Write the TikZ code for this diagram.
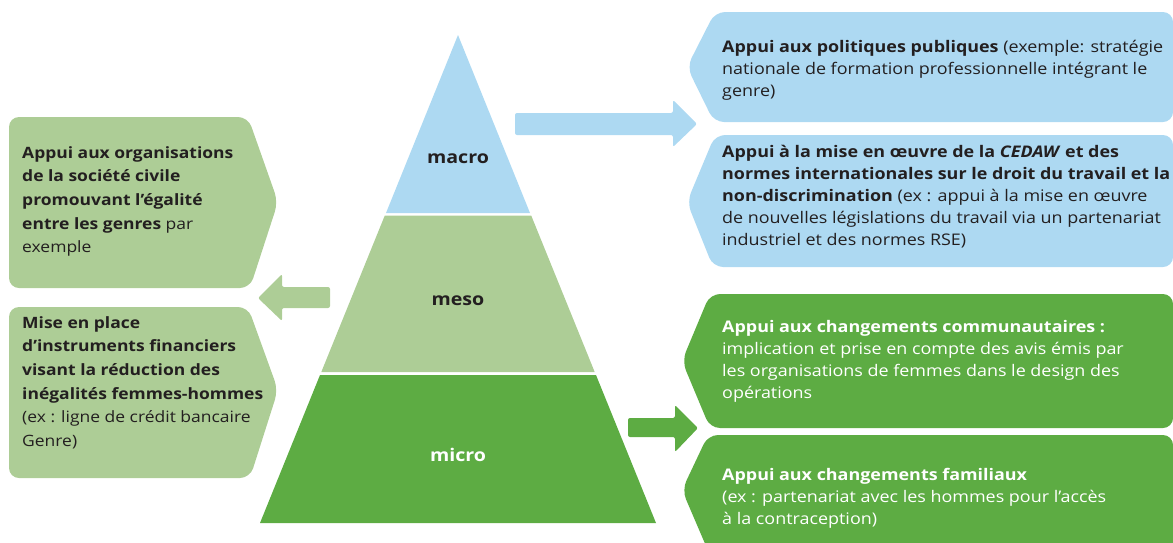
\documentclass[tikz,border=0pt]{standalone}
\usepackage{fontspec}
\setmainfont{Open Sans}[FakeStretch=1.12]
\definecolor{lblue}{HTML}{ADD9F2}
\definecolor{lgreen}{HTML}{ADCD96}
\definecolor{dgreen}{HTML}{5DAC43}
\definecolor{ink}{HTML}{231F20}
\newcommand{\fstrut}{\rule{0pt}{15pt}}
\begin{document}
\begin{tikzpicture}[x=1pt,y=-1pt,
  lt/.style={anchor=north west, inner sep=0pt, align=left, text=ink, font=\fontsize{15.6}{23.6}\selectfont},
  rt/.style={anchor=north west, inner sep=0pt, align=left, text=ink, font=\fontsize{16}{22}\selectfont},
  lvl/.style={font=\fontsize{17.5}{22}\selectfont\bfseries, anchor=base, inner sep=0pt},
  shp/.style={rounded corners=10pt},
  arr/.style={rounded corners=2pt}]
\useasboundingbox (0,0) rectangle (1173,542);

% pyramid
\fill[lblue] (458,35) -- (530,213) -- (386,213) -- cycle;
\fill[lgreen] (384.8,215.5) -- (531.2,215.5) -- (594.7,372) -- (321.3,372) -- cycle;
\fill[dgreen] (320,375) -- (596,375) -- (656,523) -- (260,523) -- cycle;
\node[lvl, text=ink] (macro) at (458,163) {macro};
\node[lvl, text=ink] (meso) at (458,305) {meso};
\node[lvl, text=white] (micro) at (458,461.5) {micro};

% left boxes
\fill[lgreen, shp] (100,117) -- (248,117) -- (278,202) -- (250,288) -- (9,288) -- (9,117) -- cycle;
\fill[lgreen, shp] (100,307) -- (248,307) -- (278,390) -- (250,478) -- (9,478) -- (9,307) -- cycle;

% right boxes
\fill[lblue, shp] (900,12) -- (1173,12) -- (1173,122) -- (714,122) -- (687,67) -- (715,12) -- cycle;
\fill[lblue, shp] (900,135) -- (1173,135) -- (1173,267) -- (713,267) -- (687,202) -- (715,135) -- cycle;
\fill[dgreen, shp] (900,294) -- (1173,294) -- (1173,428) -- (710,428) -- (682,361) -- (710,294) -- cycle;
\fill[dgreen, shp] (900,435) -- (1173,435) -- (1173,560) -- (712,560) -- (682,490) -- (708,435) -- cycle;

% block arrows
\fill[lgreen, arr] (258,298) -- (282,274) -- (282,287) -- (330,287) -- (330,308) -- (282,308) -- (282,321) -- cycle;
\fill[lblue, arr] (515,113) -- (673,113) -- (673,100) -- (697,124) -- (673,147) -- (673,135) -- (515,135) -- cycle;
\fill[dgreen, arr] (628,418) -- (675,418) -- (675,405) -- (698,428) -- (675,452) -- (675,437) -- (628,437) -- cycle;

% left texts
\node[lt] (l1) at (22,143) {\fstrut\textbf{Appui aux organisations}\\
\textbf{de la société civile}\\
\textbf{promouvant l’égalité}\\
\textbf{entre les genres} par\\
exemple};
\node[lt] (l2) at (22,313) {\fstrut\textbf{Mise en place}\\
\textbf{d’instruments financiers}\\
\textbf{visant la réduction des}\\
\textbf{inégalités femmes-hommes}\\
(ex : ligne de crédit bancaire\\
Genre)};

% right texts
\node[rt] (r1) at (722,37) {\fstrut\textbf{Appui aux politiques publiques} (exemple: stratégie\\
nationale de formation professionnelle intégrant le\\
genre)};
\node[rt] (r2) at (722,142) {\fstrut\textbf{Appui à la mise en œuvre de la \textit{CEDAW} et des}\\
\textbf{normes internationales sur le droit du travail et la}\\
\textbf{non-discrimination} (ex : appui à la mise en œuvre\\
de nouvelles législations du travail via un partenariat\\
industriel et des normes RSE)};
\node[rt, text=white] (r3) at (722,317) {\fstrut\textbf{Appui aux changements communautaires :}\\
implication et prise en compte des avis émis par\\
les organisations de femmes dans le design des\\
opérations};
\node[rt, text=white] (r4) at (722,465) {\fstrut\textbf{Appui aux changements familiaux}\\
(ex : partenariat avec les hommes pour l’accès\\
à la contraception)};
\end{tikzpicture}
\end{document}
